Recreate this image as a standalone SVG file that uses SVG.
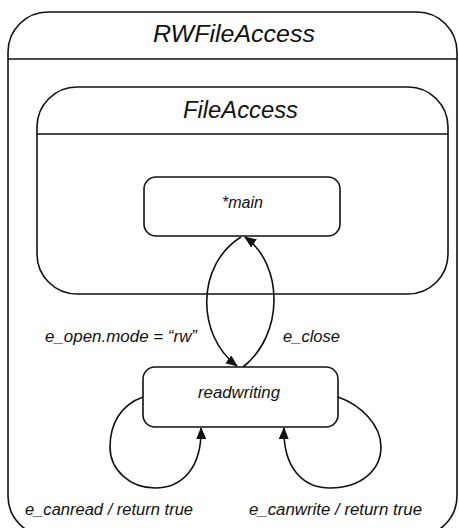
<svg xmlns="http://www.w3.org/2000/svg" width="459" height="528" viewBox="0 0 459 528">
<defs>
<marker id="arr" viewBox="0 0 12 10" refX="11" refY="5" markerWidth="12" markerHeight="10" markerUnits="userSpaceOnUse" orient="auto">
<path d="M0,0 L12,5 L0,10 Z" fill="#111"/>
</marker>
<style>
.box{fill:#fff;stroke:#111;stroke-width:1.6}
.sep{stroke:#111;stroke-width:1.3}
.edge{fill:none;stroke:#111;stroke-width:1.6}
text{font-family:"Liberation Sans",Arial,sans-serif;font-style:italic;fill:#111}
.big{font-size:24px;text-anchor:middle}
.mid{font-size:23px;text-anchor:middle}
.st{font-size:16px;text-anchor:middle}
.lbl{font-size:16px}
</style>
</defs>
<rect width="459" height="528" fill="#fff"/>
<g id="RWFileAccess">
<rect class="box" x="8" y="12" width="449" height="524" rx="40" ry="40"/>
<line class="sep" x1="8" y1="59" x2="457" y2="59"/>
<text class="big" x="234" y="42" textLength="162" lengthAdjust="spacingAndGlyphs">RWFileAccess</text>
</g>
<g id="FileAccess">
<rect class="box" x="37" y="87" width="411" height="207" rx="40" ry="40"/>
<line class="sep" x1="37" y1="134" x2="448" y2="134"/>
<text class="mid" x="240.5" y="118" textLength="115" lengthAdjust="spacingAndGlyphs">FileAccess</text>
</g>
<g id="main">
<rect class="box" x="144" y="177" width="196" height="59" rx="12" ry="12"/>
<text class="st" x="242.5" y="208" textLength="41" lengthAdjust="spacingAndGlyphs">*main</text>
</g>
<g id="readwriting">
<rect class="box" x="143" y="367" width="195" height="60" rx="12" ry="12"/>
<text class="st" x="239" y="398" textLength="82" lengthAdjust="spacingAndGlyphs">readwriting</text>
</g>
<g id="connectors">
<path class="edge" d="M241,237 C196,265 196,335 237,366" marker-end="url(#arr)"/>
<path class="edge" d="M243,367 C284,335 284,265 245,237" marker-end="url(#arr)"/>
<path class="edge" d="M143,397 C120,405 110,425 110,447 C110,470 130,488 155,488 C182,488 202,468 201,428" marker-end="url(#arr)"/>
<path class="edge" d="M338,397 C361,405 381,425 381,447 C381,470 361,488 330,488 C303,488 283,468 284,428" marker-end="url(#arr)"/>
<text class="lbl" x="45" y="342" textLength="152" lengthAdjust="spacingAndGlyphs">e_open.mode = “rw”</text>
<text class="lbl" x="283" y="342" textLength="57" lengthAdjust="spacingAndGlyphs">e_close</text>
<text class="lbl" x="25" y="515" textLength="168" lengthAdjust="spacingAndGlyphs">e_canread / return true</text>
<text class="lbl" x="249" y="515" textLength="173" lengthAdjust="spacingAndGlyphs">e_canwrite / return true</text>
</g>
</svg>
